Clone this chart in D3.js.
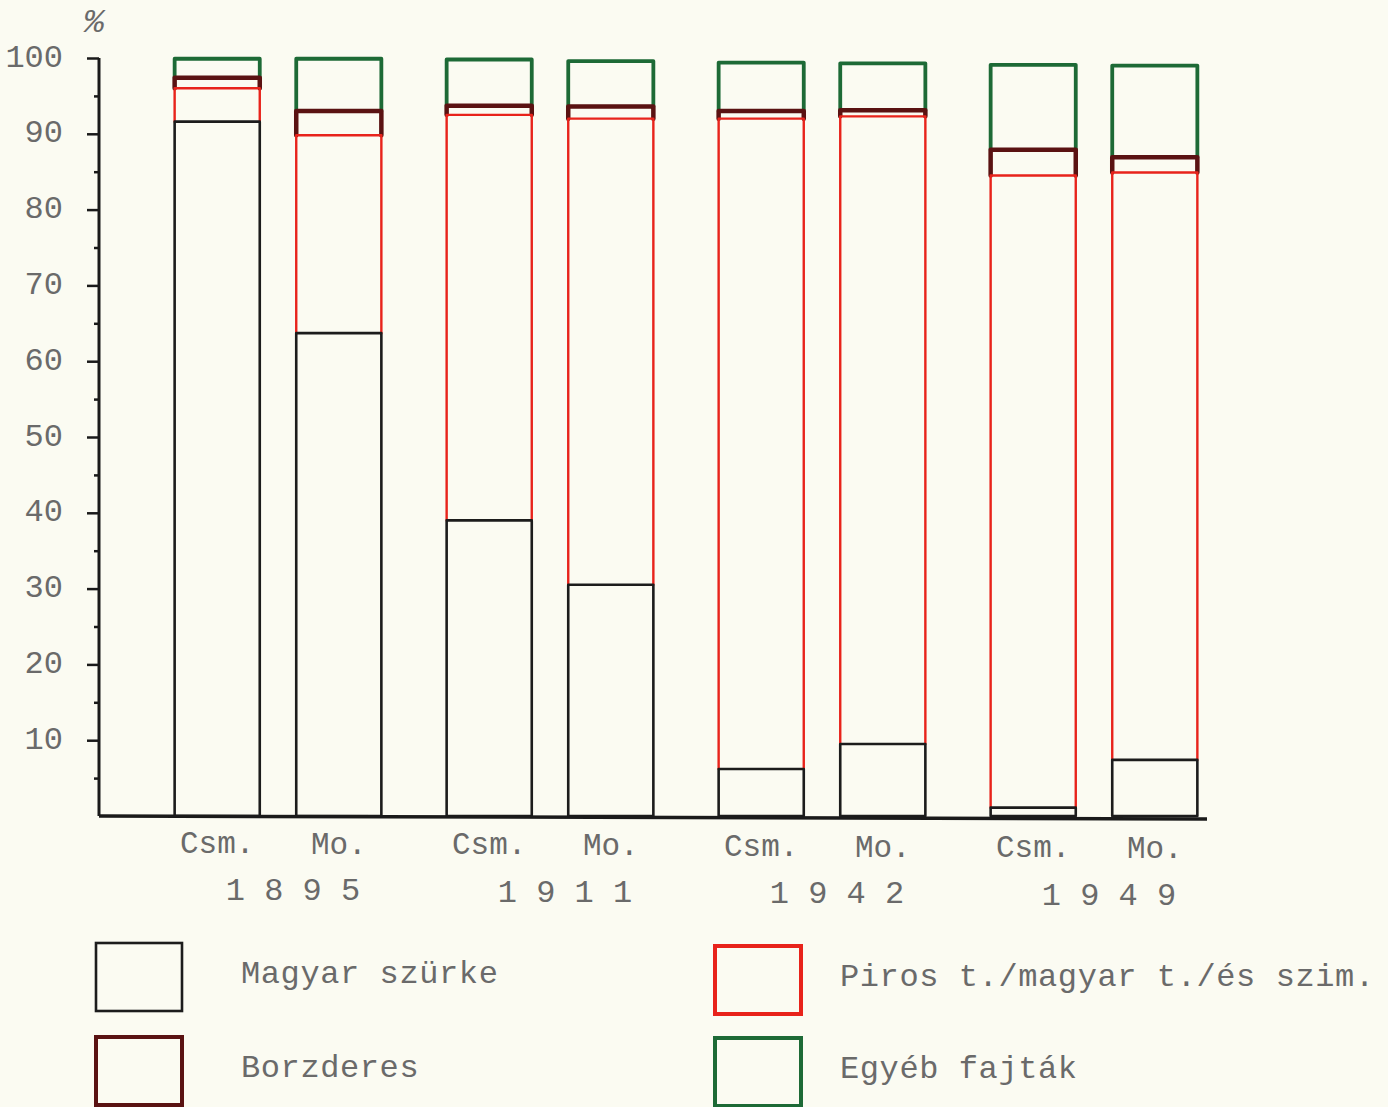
<!DOCTYPE html>
<html>
<head>
<meta charset="utf-8">
<script src="https://cdn.jsdelivr.net/npm/d3@7"></script>
<style>
  html, body { margin: 0; padding: 0; background: #fbfbf2; }
  svg { display: block; }
  .tw { font-family: "Liberation Mono", "DejaVu Sans Mono", monospace; fill: #6a6a6a; }
</style>
</head>
<body>
<svg id="chart" width="1388" height="1107"></svg>
<script>
// ---- data (percent shares) ----
const years = ["1895", "1911", "1942", "1949"];
const yearLabels = ["1 8 9 5", "1 9 1 1", "1 9 4 2", "1 9 4 9"];
const sites = ["Csm.", "Mo."];
const seriesNames = ["Magyar szürke", "Piros t./magyar t./és szim.", "Borzderes", "Egyéb fajták"];
const seriesColors = ["#1c1c1c", "#e8231b", "#5a1212", "#1d6a36"];
// order of bars: 1895 Csm, 1895 Mo, 1911 Csm, 1911 Mo, 1942 Csm, 1942 Mo, 1949 Csm, 1949 Mo
const magyarSzurke = [91.6, 63.7, 39.0, 30.5, 6.2, 9.5, 1.1, 7.4];
const piros        = [4.4, 26.1, 53.5, 61.5, 85.8, 82.8, 83.4, 77.5];
const borzderes    = [1.4, 3.2, 1.2, 1.6, 1.0, 0.8, 3.4, 2.0];
const egyeb        = [2.5, 6.9, 6.1, 6.0, 6.4, 6.2, 11.2, 12.1];
const yMajorTicks = [10, 20, 30, 40, 50, 60, 70, 80, 90, 100];
const yMinorTicks = [5, 15, 25, 35, 45, 55, 65, 75, 85, 95];

// ---- table ----
const rows = [];
years.forEach((yr, gi) => sites.forEach((s, si) => {
  const i = gi * 2 + si;
  rows.push({ year: yr, site: s, s0: magyarSzurke[i], s1: piros[i], s2: borzderes[i], s3: egyeb[i] });
}));
const keys = ["s0", "s1", "s2", "s3"];
const stack = d3.stack().keys(keys)(rows);

const svg = d3.select("#chart");

const y = d3.scaleLinear().domain([0, 100]).range([816, 58]);
const xGroup = d3.scaleBand().domain(years).range([142, 1230]).paddingInner(0.24).paddingOuter(0.12);
const xSite = d3.scaleBand().domain(sites).range([0, xGroup.bandwidth()]).paddingInner(0.3).paddingOuter(0);

const widths = [2.6, 2.4, 4.5, 3.8];
// each segment drawn open at the bottom: its bottom edge is the top edge of the segment below
const segPath = (d, k) => {
  const x0 = xGroup(d.data.year) + xSite(d.data.site);
  const x1 = x0 + xSite.bandwidth();
  const yb = y(d[0]), yt = y(d[1]);
  return k === 0
    ? `M${x0},${yb}L${x0},${yt}L${x1},${yt}L${x1},${yb}Z`
    : `M${x0},${yb}L${x0},${yt}L${x1},${yt}L${x1},${yb}`;
};
const drawOrder = [3, 2, 1, 0];
drawOrder.forEach(k => {
  svg.append("g")
    .selectAll("path")
    .data(stack[k])
    .join("path")
    .attr("d", d => segPath(d, k))
    .attr("fill", "none")
    .attr("stroke", seriesColors[k])
    .attr("stroke-width", widths[k])
    .attr("stroke-linejoin", "round")
    .attr("stroke-linecap", "round");
});

// ---- y axis ----
const axMajor = svg.append("g").attr("transform", "translate(99,0)")
  .call(d3.axisLeft(y).tickValues(yMajorTicks).tickSize(12).tickPadding(24).tickFormat(d3.format("d")));
const axMinor = svg.append("g").attr("transform", "translate(99,0)")
  .call(d3.axisLeft(y).tickValues(yMinorTicks).tickSize(5).tickFormat(""));
[axMajor, axMinor].forEach(g => {
  g.select(".domain").remove();
  g.selectAll(".tick line").attr("stroke", "#1a1a1a").attr("stroke-width", 2.5);
});
axMajor.selectAll(".tick text")
  .attr("class", "tw")
  .style("font-size", "32px")
  .attr("dy", "0.25em");
svg.append("line").attr("x1", 99).attr("x2", 99).attr("y1", y(100)).attr("y2", y(0))
  .attr("stroke", "#1a1a1a").attr("stroke-width", 3);
// baseline
svg.append("line").attr("x1", 99).attr("x2", 1207).attr("y1", y(0)).attr("y2", y(0) + 3)
  .attr("stroke", "#1a1a1a").attr("stroke-width", 3.5);

svg.append("text").attr("x", 94).attr("y", 32).attr("text-anchor", "middle")
  .attr("class", "tw").style("font-size", "34px").style("font-style", "italic").text("%");

// ---- x labels ----
svg.append("g").selectAll("text").data(rows).join("text")
  .attr("class", "tw")
  .attr("x", d => xGroup(d.year) + xSite(d.site) + xSite.bandwidth() / 2)
  .attr("y", (d, i) => 853 + i * 0.7)
  .attr("text-anchor", "middle")
  .style("font-size", "31px")
  .text(d => d.site);
svg.append("g").selectAll("text").data(years).join("text")
  .attr("class", "tw")
  .attr("x", d => xGroup(d) + xGroup.bandwidth() / 2 + 15)
  .attr("y", (d, i) => 900 + i * 1.5)
  .attr("text-anchor", "middle")
  .style("font-size", "32px")
  .text((d, i) => yearLabels[i]);

// ---- legend ----
// Magyar szürke (left top), Piros (right top), Borzderes (left bottom), Egyéb (right bottom)
const legendPos = { 0: [96, 943], 1: [715, 946], 2: [96, 1037], 3: [715, 1038] };
const leg = svg.append("g").selectAll("g").data([0, 1, 2, 3]).join("g")
  .attr("transform", k => `translate(${legendPos[k][0]},${legendPos[k][1]})`);
leg.append("rect").attr("width", 86).attr("height", 68)
  .attr("fill", "none")
  .attr("stroke", k => seriesColors[k])
  .attr("stroke-width", k => k === 0 ? 2.6 : 4);
leg.append("text").attr("class", "tw")
  .attr("x", k => (k === 0 || k === 2) ? 145 : 125)
  .attr("y", 40)
  .style("font-size", "32px")
  .style("letter-spacing", "0.6px")
  .text(k => seriesNames[k]);
</script>
</body>
</html>
